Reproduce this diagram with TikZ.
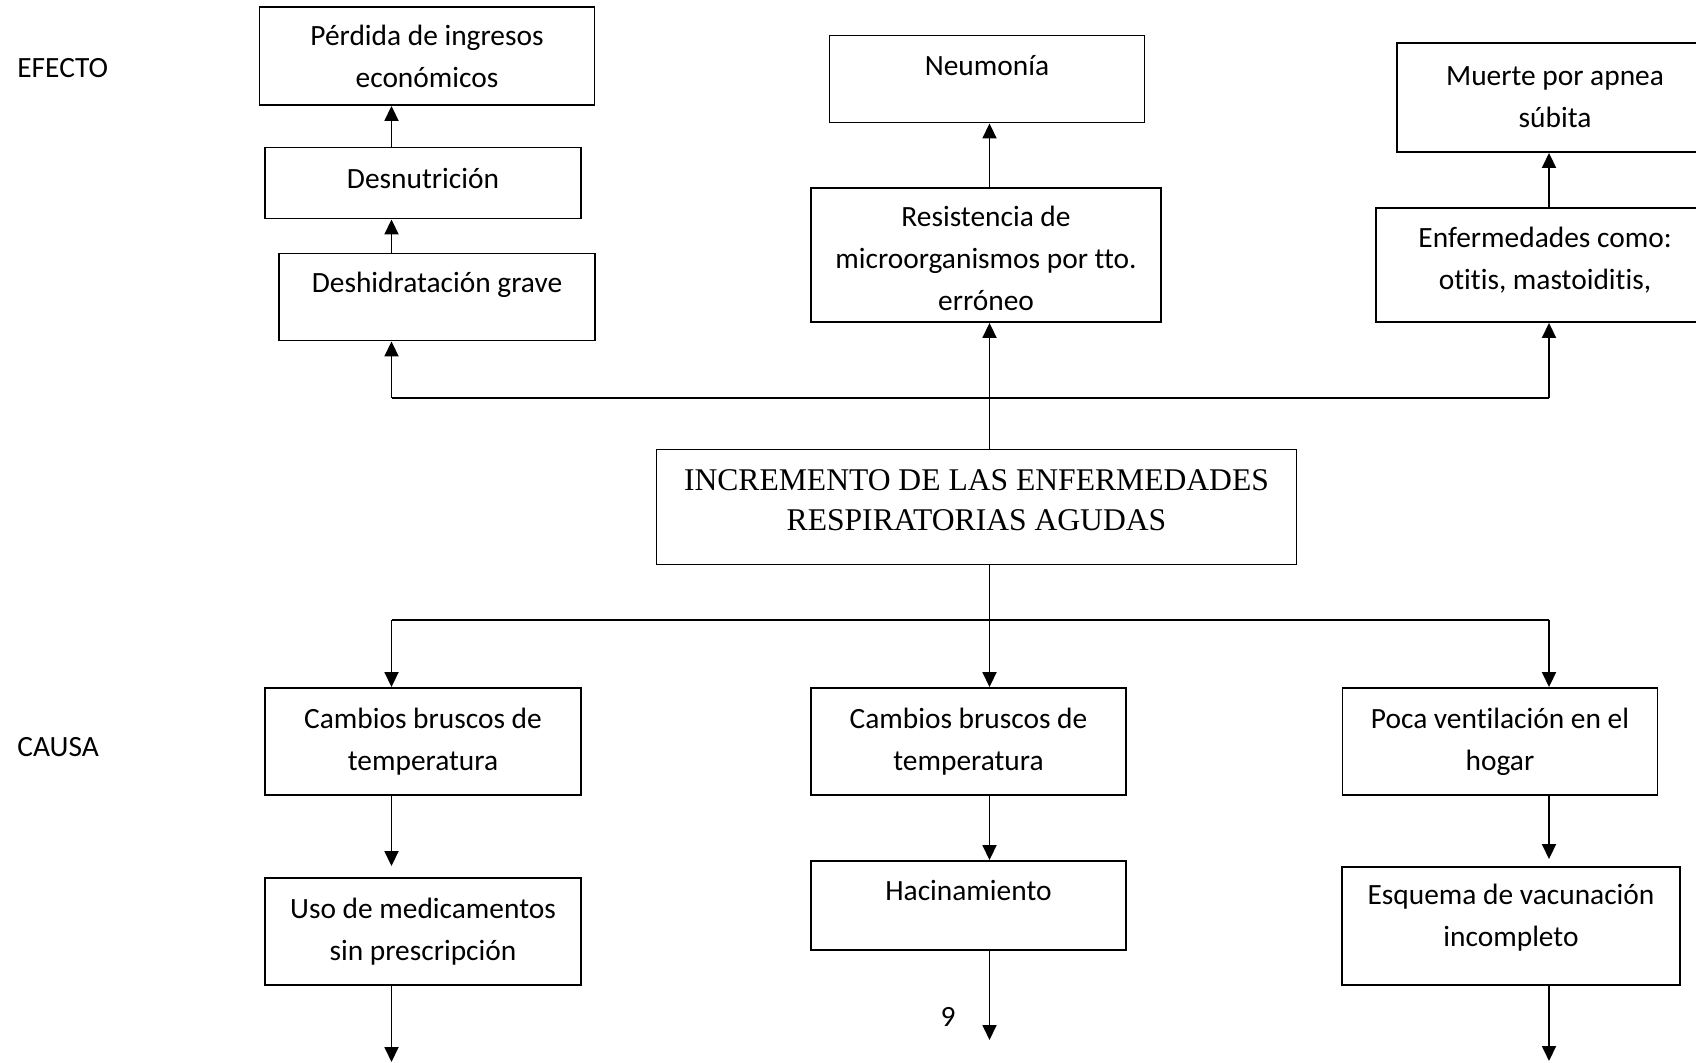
\documentclass[tikz,border=0pt]{standalone}
\usepackage{fontspec}
\setmainfont{Carlito}[Ligatures=NoCommon]
\newfontfamily\serifbox{Liberation Serif}
\usetikzlibrary{arrows.meta}
\tikzset{
  plain box/.style={
    draw,
    line width=0.95pt,
    inner sep=0pt,
    align=center,
    font=\fontsize{14.7pt}{21pt}\selectfont,
  },
  box size/.style 2 args={
    minimum width={#1*0.5pt},
    minimum height={#2*0.5pt},
  },
  lift/.style={text depth=#1},
  drop/.style={text height=#1},
  connector/.style={line width=0.9pt},
  arrow line/.style={connector, -{Triangle[length=7.5pt,width=7pt]}},
  side label/.style={
    anchor=west,
    inner sep=0pt,
    font=\fontsize{14.7pt}{21pt}\selectfont,
  }
}

\begin{document}
\begin{tikzpicture}[x=0.5pt, y=-0.5pt]
    \clip (0,0) rectangle (1696,1063);

    % efectos
    \node [plain box, box size={335}{98}] (perdida) at (427,56) {Pérdida de ingresos\\económicos};
    \node [plain box, box size={316}{71}, lift=5pt] (desnut) at (423,183) {Desnutrición};
    \node [plain box, box size={316}{87}, lift=15pt] (deshid) at (437,297) {Deshidratación grave};
    \node [plain box, box size={315}{87}, lift=14pt] (neumonia) at (987,79) {Neumonía};
    \node [plain box, box size={350}{134}, drop=56pt] (resist) at (986,255) {Resistencia de\\microorganismos por tto.\\erróneo};
    \node [plain box, box size={316}{109}] (muerte) at (1555,97.5) {Muerte por apnea\\súbita};
    \node [plain box, box size={338}{114}, lift=7pt] (enferm) at (1545,265) {Enfermedades como:\\otitis, mastoiditis,};

    % problema central
    \node [plain box, box size={640}{115}, lift=7pt,
           font=\serifbox\fontsize{15.8pt}{20pt}\selectfont] (central) at (976.5,507)
          {INCREMENTO DE LAS ENFERMEDADES\\RESPIRATORIAS AGUDAS};

    % causas
    \node [plain box, box size={316}{107}] (cambiosA) at (423,741.5) {Cambios bruscos de\\temperatura};
    \node [plain box, box size={315}{107}] (cambiosB) at (968.5,741.5) {Cambios bruscos de\\temperatura};
    \node [plain box, box size={315}{107}] (poca) at (1500,741.5) {Poca ventilación en el\\hogar};
    \node [plain box, box size={316}{107}] (uso) at (423,931.5) {Uso de medicamentos\\sin prescripción};
    \node [plain box, box size={315}{89}, lift=15.5pt] (hacin) at (968.5,905.5) {Hacinamiento};
    \node [plain box, box size={338}{118}, lift=11pt] (esquema) at (1511,926) {Esquema de vacunación\\incompleto};

    \node [side label] (efecto) at (17,68) {EFECTO};
    \node [side label] (causa) at (17,747) {CAUSA};
    \node [side label, anchor=center] (pagina) at (948,1017) {9};

    \coordinate (colL) at (391.5,0);
    \coordinate (colM) at (989.5,0);
    \coordinate (colR) at (1549,0);
    \coordinate (topbar) at (0,398);
    \coordinate (botbar) at (0,620);
    \coordinate (endL) at (391.5,1062);
    \coordinate (endM) at (989.5,1040);
    \coordinate (endR) at (1549,1061);

    % flechas de efectos
    \draw [arrow line] (deshid.north -| colL) -- (desnut.south -| colL);
    \draw [arrow line] (desnut.north -| colL) -- (perdida.south -| colL);
    \draw [arrow line] (resist.north -| colM) -- (neumonia.south -| colM);
    \draw [arrow line] (enferm.north -| colR) -- (muerte.south -| colR);
    \draw [connector] (colL |- topbar) -- (colR |- topbar);
    \draw [arrow line] (colL |- topbar) -- (deshid.south -| colL);
    \draw [arrow line] (central.north -| colM) -- (resist.south -| colM);
    \draw [arrow line] (colR |- topbar) -- (enferm.south -| colR);

    % flechas de causas
    \draw [connector] (central.south -| colM) -- (colM |- botbar);
    \draw [connector] (colL |- botbar) -- (colR |- botbar);
    \foreach \cause/\col in {cambiosA/colL, cambiosB/colM, poca/colR}
        \draw [arrow line] (\col |- botbar) -- (\cause.north -| \col);
    \draw [arrow line, shorten >=5.5pt] (cambiosA.south -| colL) -- (uso.north -| colL);
    \draw [arrow line] (cambiosB.south -| colM) -- (hacin.north -| colM);
    \draw [arrow line, shorten >=3.5pt] (poca.south -| colR) -- (esquema.north -| colR);
    \draw [arrow line] (uso.south -| colL) -- (endL);
    \draw [arrow line] (hacin.south -| colM) -- (endM);
    \draw [arrow line] (esquema.south -| colR) -- (endR);
\end{tikzpicture}
\end{document}
